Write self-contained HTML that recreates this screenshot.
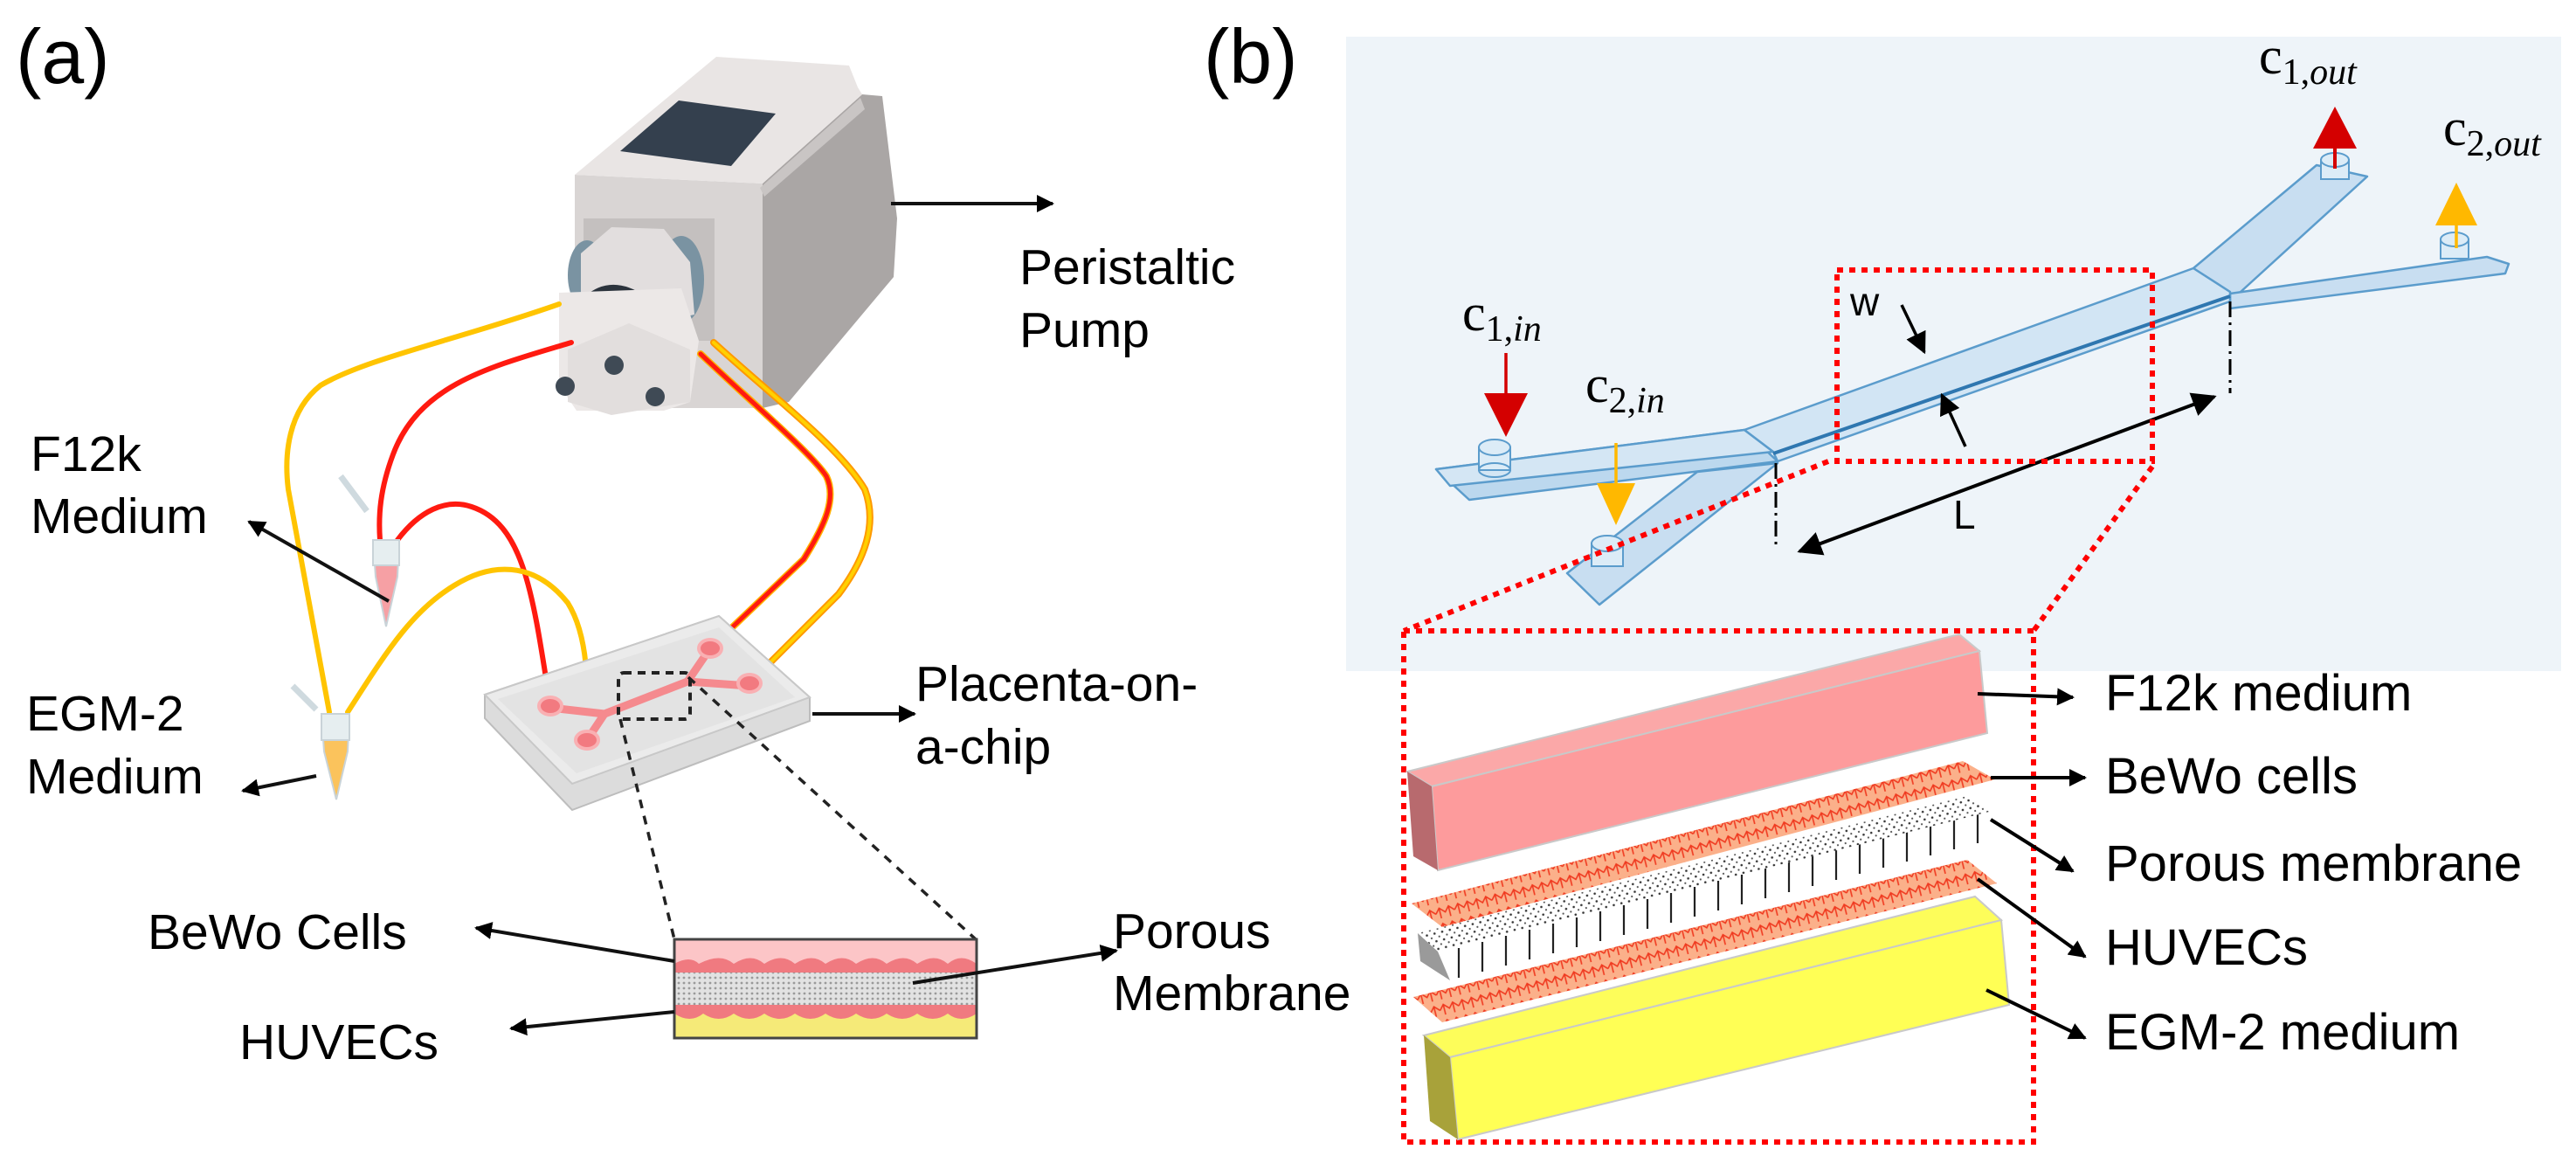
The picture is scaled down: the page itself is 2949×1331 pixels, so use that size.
<!DOCTYPE html>
<html><head><meta charset="utf-8"><style>
html,body{margin:0;padding:0;background:#fff}
svg{display:block}
text{font-family:"Liberation Sans",sans-serif;fill:#000}
.s{font-family:"Liberation Serif",serif}
</style></head><body>
<svg width="2949" height="1331" viewBox="0 0 2949 1331" xmlns="http://www.w3.org/2000/svg">
<defs>
<marker id="ah" viewBox="0 0 10 10" refX="9" refY="5" markerWidth="5" markerHeight="5" orient="auto" markerUnits="strokeWidth"><path d="M0,0 L10,5 L0,10 Z" fill="#000"/></marker>
<marker id="ah2" viewBox="0 0 10 10" refX="9" refY="5" markerWidth="7" markerHeight="7" orient="auto-start-reverse" markerUnits="strokeWidth"><path d="M0,0 L10,5 L0,10 Z" fill="#000"/></marker>
<pattern id="cells" width="22" height="18" patternUnits="userSpaceOnUse" patternTransform="rotate(-14)">
<rect width="22" height="18" fill="#fbb08a"/>
<path d="M0,9 L5,3 L11,9 L16,3 L22,9 M5,3 L5,15 M16,3 L16,15" stroke="#f03a20" stroke-width="1.6" fill="none"/>
</pattern>
<pattern id="dots" width="9" height="9" patternUnits="userSpaceOnUse" patternTransform="rotate(-14)">
<rect width="9" height="9" fill="#fff"/><circle cx="3" cy="3" r="1.3" fill="#333"/><circle cx="7.5" cy="7.5" r="1.1" fill="#555"/>
</pattern>
<pattern id="mesh" width="6" height="6" patternUnits="userSpaceOnUse">
<rect width="6" height="6" fill="#e2e2e2"/><circle cx="3" cy="3" r="1.4" fill="#9a9a9a"/>
</pattern>
</defs>

<!-- ===== Panel (a) ===== -->
<text x="18" y="95" font-size="88">(a)</text>

<!-- pump -->
<polygon points="873,210 987,108 1010,110 1027,250 1023,317 903,460 873,467" fill="#aaa6a5"/>
<polygon points="658,200 873,210 873,467 658,467" fill="#d9d5d4"/>
<polygon points="658,200 820,65 972,75 982,100 987,108 873,210" fill="#e9e5e4"/>
<polygon points="710,173 777,115 888,130 837,190" fill="#34404e"/>
<polygon points="870,215 985,112 990,125 875,225" fill="#c9c5c4"/>
<rect x="668" y="250" width="150" height="140" fill="#c4c0bf"/>
<!-- pump head -->
<ellipse cx="672" cy="315" rx="22" ry="40" fill="#7a93a2"/>
<ellipse cx="780" cy="320" rx="26" ry="50" fill="#7a93a2"/>
<polygon points="665,290 700,260 760,262 790,300 795,360 700,380 665,360" fill="#e2dede"/>
<path d="M672,343 Q700,318 737,343" stroke="#2b333c" stroke-width="9" fill="none"/>
<polygon points="640,335 780,330 800,390 790,460 760,470 660,470 640,440" fill="#ece8e7"/>
<polygon points="650,400 720,370 790,400 790,460 700,475 650,460" fill="#e2dedd"/>
<circle cx="703" cy="418" r="11" fill="#3f4a55"/>
<circle cx="647" cy="442" r="11" fill="#3f4a55"/>
<circle cx="750" cy="454" r="11" fill="#3f4a55"/>

<!-- tubes -->
<g fill="none" stroke-linecap="round">
<path d="M640,348 C520,390 420,410 367,441 C330,470 325,520 330,560 L377,815" stroke="#ffc400" stroke-width="6"/>
<path d="M654,392 C560,420 480,440 450,520 C435,560 433,590 435,618" stroke="#ff1a10" stroke-width="6"/>
<path d="M455,618 C480,585 510,570 540,580 C600,600 610,680 630,808" stroke="#ff1a10" stroke-width="6"/>
<path d="M398,815 C440,750 470,700 520,670 C560,645 610,640 650,690 C675,730 673,790 672,847" stroke="#ffc400" stroke-width="6"/>
<path d="M817,392 C880,450 960,510 990,560 C1005,600 990,640 960,680 L858,782" stroke="#ff9900" stroke-width="8"/>
<path d="M817,392 C880,450 960,510 990,560 C1005,600 990,640 960,680 L858,782" stroke="#ffd000" stroke-width="4"/>
<path d="M802,405 C860,460 930,520 946,545 C958,570 945,600 920,640 L813,742" stroke="#ffb000" stroke-width="8"/>
<path d="M802,405 C860,460 930,520 946,545 C958,570 945,600 920,640 L813,742" stroke="#ff1a10" stroke-width="5"/>
</g>

<!-- tubes (eppendorf) -->
<path d="M390,545 L420,585" stroke="#cfdadf" stroke-width="7"/>
<polygon points="427,618 457,618 455,660 442,717 430,660" fill="#f6a0a4" stroke="#c9d3d8" stroke-width="2"/>
<rect x="427" y="618" width="30" height="29" fill="#e6eef0" stroke="#c9d3d8" stroke-width="2"/>
<path d="M335,785 L362,812" stroke="#cfdadf" stroke-width="7"/>
<polygon points="368,817 400,817 398,860 385,915 371,860" fill="#fbc35c" stroke="#c9d3d8" stroke-width="2"/>
<rect x="368" y="817" width="32" height="30" fill="#e6eef0" stroke="#c9d3d8" stroke-width="2"/>

<!-- chip -->
<polygon points="555,795 823,705 927,798 927,825 655,927 555,822" fill="#dcdcdc" stroke="#bdbdbd" stroke-width="2"/>
<polygon points="555,795 823,705 927,798 655,897" fill="#ebebeb" stroke="#c8c8c8" stroke-width="2"/>
<polygon points="570,800 823,718 910,798 660,885" fill="#e3e3e3"/>
<g stroke="#f58a8e" stroke-width="9" fill="none" stroke-linejoin="round">
<path d="M630,810 L692,817 L787,780 L813,742"/><path d="M672,847 L692,817"/><path d="M787,780 L858,785"/>
</g>
<g fill="#f27a80" stroke="#f9b0b3" stroke-width="4">
<ellipse cx="630" cy="808" rx="13" ry="10"/><ellipse cx="672" cy="847" rx="13" ry="10"/>
<ellipse cx="813" cy="742" rx="13" ry="10"/><ellipse cx="858" cy="782" rx="13" ry="10"/>
</g>
<rect x="708" y="770" width="82" height="53" rx="6" fill="none" stroke="#222" stroke-width="4" stroke-dasharray="9,7"/>
<path d="M710,823 L772,1075 M788,775 L1117,1075" stroke="#222" stroke-width="3.5" stroke-dasharray="10,9"/>

<!-- cross section -->
<rect x="772" y="1075" width="346" height="36" fill="#fcc5c7"/>
<path d="M772,1103 Q790,1093 800,1103 Q825,1090 840,1103 Q860,1090 875,1103 Q895,1090 910,1103 Q930,1090 945,1103 Q965,1090 980,1103 Q1000,1090 1015,1103 Q1035,1090 1050,1103 Q1070,1090 1085,1103 Q1100,1090 1118,1103 L1118,1113 L772,1113 Z" fill="#f07a80"/>
<rect x="772" y="1113" width="346" height="37" fill="url(#mesh)"/>
<rect x="772" y="1150" width="346" height="38" fill="#f5ea78"/>
<path d="M772,1150 L1118,1150 L1118,1160 Q1100,1172 1085,1160 Q1068,1172 1050,1160 Q1033,1172 1015,1160 Q998,1172 980,1160 Q963,1172 945,1160 Q928,1172 910,1160 Q893,1172 875,1160 Q858,1172 840,1160 Q823,1172 805,1160 Q790,1172 772,1160 Z" fill="#f07a80"/>
<rect x="772" y="1075" width="346" height="113" fill="none" stroke="#444" stroke-width="3"/>

<!-- arrows a -->
<g stroke="#111" stroke-width="4" fill="none" marker-end="url(#ah)">
<path d="M1020,233 L1205,233"/>
<path d="M445,688 L285,597"/>
<path d="M362,888 L278,905"/>
<path d="M930,817 L1047,817"/>
<path d="M772,1100 L545,1062"/>
<path d="M772,1158 L585,1177"/>
<path d="M1045,1125 L1278,1088"/>
</g>
<g font-size="57">
<text x="1167" y="325">Peristaltic</text><text x="1167" y="397">Pump</text>
<text x="35" y="539">F12k</text><text x="35" y="610">Medium</text>
<text x="30" y="836">EGM-2</text><text x="30" y="908">Medium</text>
<text x="1048" y="802">Placenta-on-</text><text x="1048" y="874">a-chip</text>
<text x="169" y="1086">BeWo Cells</text>
<text x="274" y="1212">HUVECs</text>
<text x="1274" y="1085">Porous</text><text x="1274" y="1156">Membrane</text>
</g>

<!-- ===== Panel (b) ===== -->
<text x="1378" y="95" font-size="88">(b)</text>
<rect x="1541" y="42" width="1391" height="726" fill="#eef4f9"/>

<!-- channel -->
<g stroke="#5b9ccc" stroke-width="2.5" stroke-linejoin="round">
<polygon points="1997,492 1644,537 1682,572 2035,528" fill="#bcd8ee"/>
<polygon points="1997,492 1644,537 1660,556 2030,517" fill="#d4e6f4"/>
<polygon points="1943,540 2035,530 1831,692 1794,656" fill="#c8def1"/>
<polygon points="2511,307 2652,189 2710,202 2553,345" fill="#c8def1"/>
<polygon points="2553,336 2847,294 2872,302 2868,313 2553,353" fill="#c8def1"/>
<polygon points="1997,492 2511,307 2553,334 2553,345 2035,528 2030,517" fill="#d2e5f4"/>
</g>
<path d="M2030,519 L2553,339" stroke="#2f77b0" stroke-width="4"/>
<path d="M1997,492 L2030,517 M2511,307 L2553,334" stroke="#5b9ccc" stroke-width="2"/>
<g fill="#dcecf7" stroke="#5b9ccc" stroke-width="2">
<rect x="1693" y="512" width="36" height="26" /><ellipse cx="1711" cy="512" rx="18" ry="9"/><ellipse cx="1711" cy="538" rx="18" ry="8" fill="none"/>
<rect x="1822" y="622" width="36" height="26"/><ellipse cx="1840" cy="622" rx="18" ry="9"/>
<rect x="2657" y="183" width="32" height="22"/><ellipse cx="2673" cy="183" rx="16" ry="8"/>
<rect x="2794" y="274" width="32" height="22"/><ellipse cx="2810" cy="274" rx="16" ry="8"/>
</g>
<!-- flow arrows -->
<path d="M1724,404 L1724,455" stroke="#d40000" stroke-width="3.5"/>
<polygon points="1699,450 1749,450 1724,500" fill="#d40000"/>
<path d="M1850,507 L1850,556" stroke="#ffb800" stroke-width="3.5"/>
<polygon points="1828,553 1872,553 1850,601" fill="#ffb800"/>
<polygon points="2648,170 2698,170 2673,122" fill="#d40000"/>
<path d="M2673,168 L2673,193" stroke="#d40000" stroke-width="4"/>
<polygon points="2788,258 2836,258 2812,209" fill="#ffb800"/>
<path d="M2812,256 L2812,284" stroke="#ffb800" stroke-width="3.5"/>

<!-- dims -->
<path d="M2033,530 L2033,628 M2553,345 L2553,450" stroke="#000" stroke-width="3" stroke-dasharray="18,6,3,6"/>
<path d="M2060,631 L2535,454" stroke="#000" stroke-width="4" marker-start="url(#ah2)" marker-end="url(#ah2)"/>
<path d="M2177,349 L2203,403" stroke="#000" stroke-width="3.5" marker-end="url(#ah2)"/>
<path d="M2250,511 L2223,452" stroke="#000" stroke-width="3.5" marker-end="url(#ah2)"/>
<text x="2118" y="361" font-size="46">w</text>
<text x="2236" y="605" font-size="46">L</text>

<g class="s" font-size="60">
<text x="1674" y="378" class="s">c<tspan font-size="42" dy="12">1,</tspan><tspan font-size="42" font-style="italic">in</tspan></text>
<text x="1815" y="460" class="s">c<tspan font-size="42" dy="12">2,</tspan><tspan font-size="42" font-style="italic">in</tspan></text>
<text x="2586" y="84" class="s">c<tspan font-size="42" dy="12">1,</tspan><tspan font-size="42" font-style="italic">out</tspan></text>
<text x="2797" y="166" class="s">c<tspan font-size="42" dy="12">2,</tspan><tspan font-size="42" font-style="italic">out</tspan></text>
</g>

<!-- red dotted boxes -->
<g fill="none" stroke="#f00" stroke-width="6" stroke-dasharray="7,7">
<rect x="2103" y="309" width="361" height="219"/>
<path d="M2093,528 L1607,722 M2464,534 L2328,722"/>
<rect x="1607" y="722" width="721" height="585"/>
</g>

<!-- layers -->
<polygon points="1611,883 2243,726 2266,745 1639,900" fill="#fba8a8" stroke="#c9c9c9" stroke-width="2"/>
<polygon points="1639,900 2266,745 2275,839 1646,996" fill="#fd9b9c" stroke="#c9c9c9" stroke-width="2"/>
<polygon points="1611,883 1639,900 1646,996 1618,980" fill="#b86a6e"/>
<polygon points="1616,1034 2247,871 2284,892 1651,1061" fill="url(#cells)"/>
<polygon points="1646,1089 2277,929 2270,973 1660,1122" fill="#fff"/>
<g stroke="#222" stroke-width="2.2">
<path d="M1670,1085 v34 M1697,1078 v34 M1724,1071 v34 M1751,1064 v34 M1778,1057 v34 M1805,1050 v34 M1832,1043 v34 M1859,1036 v34 M1886,1029 v34 M1913,1022 v34 M1940,1015 v34 M1967,1008 v34 M1994,1001 v34 M2021,994 v34 M2048,987 v34 M2075,980 v34 M2102,973 v34 M2129,966 v34 M2156,959 v34 M2183,952 v34 M2210,945 v34 M2237,938 v34 M2264,931 v34"/>
</g>
<polygon points="1623,1068 2252,911 2277,929 1646,1089" fill="url(#dots)"/>
<polygon points="1623,1068 1646,1089 1660,1122 1626,1100" fill="#9a9a9a"/>
<polygon points="1618,1141 2252,984 2286,1011 1651,1170" fill="url(#cells)"/>
<polygon points="1630,1185 2261,1026 2291,1053 1660,1210" fill="#fdfd5a" stroke="#c9c9c9" stroke-width="2"/>
<polygon points="1660,1210 2291,1053 2300,1150 1669,1304" fill="#ffff55" stroke="#c9c9c9" stroke-width="2"/>
<polygon points="1630,1185 1660,1210 1669,1304 1637,1283" fill="#a8a23a"/>

<g stroke="#000" stroke-width="4" fill="none" marker-end="url(#ah)">
<path d="M2264,794 L2373,798"/>
<path d="M2279,890 L2387,890"/>
<path d="M2279,938 L2373,997"/>
<path d="M2264,1006 L2387,1095"/>
<path d="M2274,1133 L2387,1188"/>
</g>
<g font-size="58">
<text x="2410" y="813">F12k medium</text>
<text x="2410" y="908">BeWo cells</text>
<text x="2410" y="1008">Porous membrane</text>
<text x="2410" y="1104">HUVECs</text>
<text x="2410" y="1201">EGM-2 medium</text>
</g>
</svg>
</body></html>
